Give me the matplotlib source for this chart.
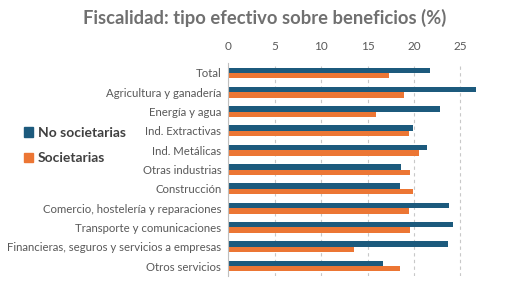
import matplotlib.pyplot as plt
import numpy as np
from matplotlib.patches import Patch

categorias = ["Total", "Agricultura y ganadería", "Energía y agua", "Ind. Extractivas",
              "Ind. Metálicas", "Otras industrias", "Construcción",
              "Comercio, hostelería y reparaciones", "Transporte y comunicaciones",
              "Financieras, seguros y servicios a empresas", "Otros servicios"]
no_societarias = [21.7, 26.7, 22.8, 19.9, 21.4, 18.6, 18.5, 23.8, 24.2, 23.7, 16.7]
societarias = [17.3, 18.9, 15.9, 19.5, 20.5, 19.6, 19.9, 19.5, 19.6, 13.5, 18.5]

azul = "#1C5A7D"
naranja = "#EC7634"
gris = "#595959"

plt.rcParams["font.family"] = ["Lato", "DejaVu Sans"]

fig = plt.figure(figsize=(5.13, 3.0), dpi=100)
ax = fig.add_axes([0.445, 0.081, 0.525, 0.708])

y = np.arange(len(categorias))
h = 0.28
ax.barh(y - h / 2, no_societarias, height=h, color=azul)
ax.barh(y + h / 2, societarias, height=h, color=naranja)

ax.set_xlim(0, 29)
ax.set_ylim(len(categorias) - 0.5, -0.5)
ax.set_xticks([0, 5, 10, 15, 20, 25])
ax.xaxis.tick_top()
ax.set_yticks(y)
ax.set_yticklabels(categorias)
ax.tick_params(axis="x", length=0, labelsize=8.5, colors=gris, pad=8)
ax.tick_params(axis="y", length=0, labelsize=8.2, colors=gris, pad=5)
ax.grid(axis="x", linestyle=(0, (3, 3)), color="#C8C8C8", linewidth=0.8)
ax.set_axisbelow(True)
for s in ["top", "right", "bottom"]:
    ax.spines[s].set_visible(False)
ax.spines["left"].set_color("#BFBFBF")

fig.suptitle("Fiscalidad: tipo efectivo sobre beneficios (%)", x=0.515, y=0.97,
             fontsize=13.2, fontweight="bold", color="#707070")

handles = [Patch(color=azul, label="No societarias"), Patch(color=naranja, label="Societarias")]
leg = fig.legend(handles=handles, loc="upper left", bbox_to_anchor=(0.035, 0.595),
                 frameon=False, fontsize=10, handlelength=0.7, handleheight=0.7,
                 handletextpad=0.35, labelspacing=0.95, borderaxespad=0)
for t in leg.get_texts():
    t.set_color("#404040")
    t.set_fontweight("bold")

fig.savefig("out.png", dpi=100)
